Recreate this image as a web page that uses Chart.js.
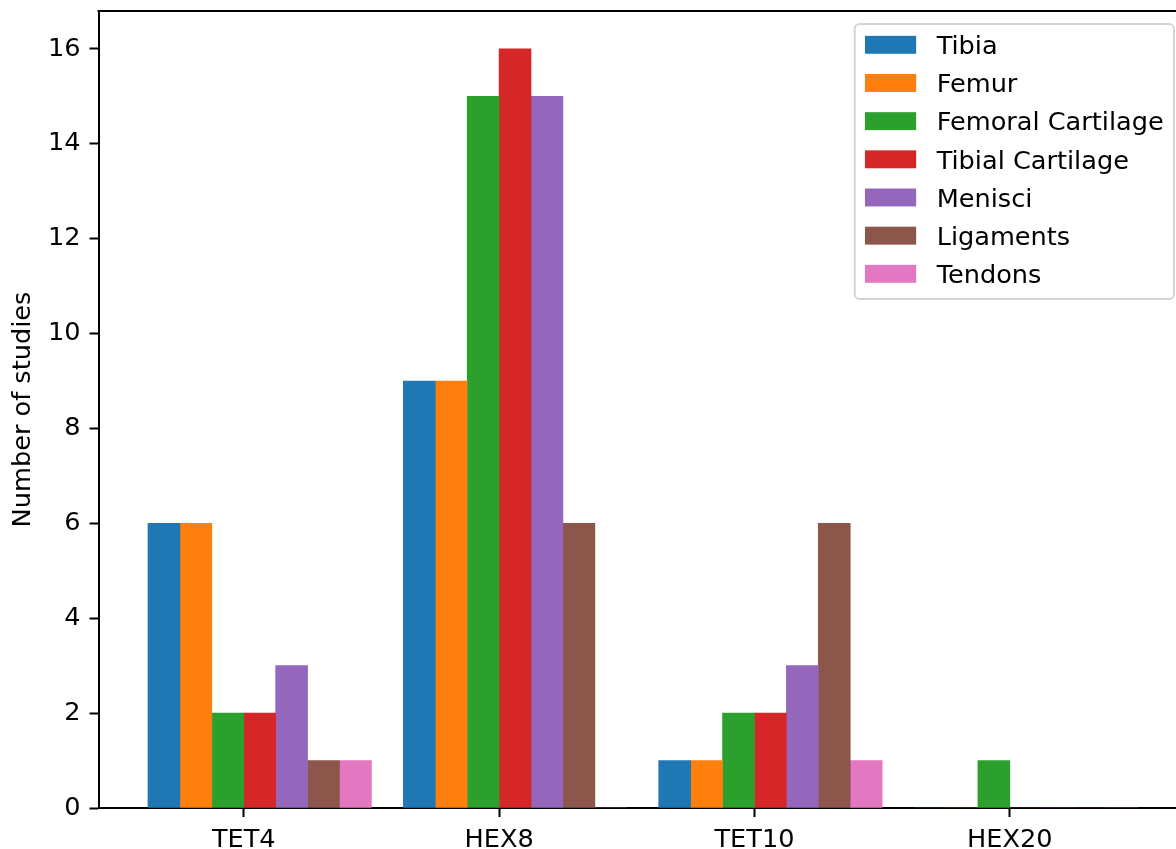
<!DOCTYPE html>
<html>
<head>
<meta charset="utf-8">
<script src="https://cdn.jsdelivr.net/npm/chart.js@4/dist/chart.umd.min.js"></script>
<style>
  html, body { margin: 0; padding: 0; background: #fff; overflow: hidden; }
  #wrap { width: 1200px; height: 849px; }
</style>
</head>
<body>
<div id="wrap"><canvas id="c" width="1200" height="849"></canvas></div>
<script>
// Element types on the x axis
const categories = ['TET4', 'HEX8', 'TET10', 'HEX20'];

// Number of studies per structure, one value per element type
const tibia            = [6, 9, 1, 0];
const femur            = [6, 9, 1, 0];
const femoralCartilage = [2, 15, 2, 1];
const tibialCartilage  = [2, 16, 2, 0];
const menisci          = [3, 15, 3, 0];
const ligaments        = [1, 6, 6, 0];
const tendons          = [1, 0, 1, 0];

const seriesNames  = ['Tibia', 'Femur', 'Femoral Cartilage', 'Tibial Cartilage', 'Menisci', 'Ligaments', 'Tendons'];
const seriesValues = [tibia, femur, femoralCartilage, tibialCartilage, menisci, ligaments, tendons];
const seriesColors = ['#1f77b4', '#ff7f0e', '#2ca02c', '#d62728', '#9467bd', '#8c564b', '#e377c2'];

const yTickStep = 2;

const FONT = '"DejaVu Sans", sans-serif';
const FS = 25.6;
const BAR_W = 0.125;

// Bars sit at category + (i - 2.5) * width, as a plain grouped layout
const datasets = seriesNames.map((name, i) => ({
  label: name,
  data: seriesValues[i].map((v, k) => ({ x: k + (i - 2.5) * BAR_W, y: v })),
  backgroundColor: seriesColors[i],
  borderWidth: 0,
  grouped: false,
  categoryPercentage: 1.0,
  barPercentage: 1.0
}));

const xMin = -3 * BAR_W - 0.05 * (categories.length - 1 + 7 * BAR_W);
const xMax = (categories.length - 1) + 4 * BAR_W + 0.05 * (categories.length - 1 + 7 * BAR_W);
const yMax = Math.max(...seriesValues.flat()) * 1.05;

// Top/right spines and an in-axes legend
const framePlugin = {
  id: 'frame',
  afterDraw(chart) {
    const { ctx, chartArea: a } = chart;
    ctx.save();
    ctx.strokeStyle = '#000';
    ctx.lineWidth = 2;
    ctx.beginPath();
    ctx.moveTo(a.left - 1, a.top);
    ctx.lineTo(a.right, a.top);
    ctx.lineTo(a.right, a.bottom);
    ctx.stroke();

    // legend
    ctx.font = FS + 'px ' + FONT;
    const pad = 0.4 * FS, handleW = 2 * FS, handleH = 0.7 * FS, gap = 0.8 * FS;
    const rowH = 38.17;
    const textW = Math.max(...seriesNames.map(n => ctx.measureText(n).width));
    const boxW = pad + handleW + gap + textW + pad;
    const boxH = 20.8 + rowH * (seriesNames.length - 1) + 25.2;
    const right = 1174, top = a.top + 13;
    const left = right - boxW;
    const r = 5;
    ctx.beginPath();
    ctx.moveTo(left + r, top);
    ctx.lineTo(right - r, top);
    ctx.arcTo(right, top, right, top + r, r);
    ctx.lineTo(right, top + boxH - r);
    ctx.arcTo(right, top + boxH, right - r, top + boxH, r);
    ctx.lineTo(left + r, top + boxH);
    ctx.arcTo(left, top + boxH, left, top + boxH - r, r);
    ctx.lineTo(left, top + r);
    ctx.arcTo(left, top, left + r, top, r);
    ctx.closePath();
    ctx.fillStyle = 'rgba(255,255,255,0.8)';
    ctx.fill();
    ctx.strokeStyle = '#d4d4d4';
    ctx.lineWidth = 2;
    ctx.stroke();

    ctx.textBaseline = 'alphabetic';
    ctx.textAlign = 'left';
    seriesNames.forEach((n, i) => {
      const cy = top + 20.8 + i * rowH;
      ctx.fillStyle = seriesColors[i];
      ctx.fillRect(left + pad, cy - handleH / 2, handleW, handleH);
      ctx.fillStyle = '#000';
      ctx.fillText(n, left + pad + handleW + gap, cy + 9.3);
    });
    ctx.restore();
  }
};

new Chart(document.getElementById('c'), {
  type: 'bar',
  data: { datasets },
  options: {
    responsive: false,
    animation: false,
    devicePixelRatio: 1,
    layout: { padding: { top: 11, right: 13, left: 0, bottom: 0 } },
    plugins: {
      legend: { display: false },
      tooltip: { enabled: false }
    },
    scales: {
      x: {
        type: 'linear',
        bounds: 'data',
        min: xMin,
        max: xMax,
        offset: false,
        afterBuildTicks: (s) => { s.ticks = categories.map((c, i) => ({ value: i })); },
        afterFit: (s) => { s.height = 41; s.paddingLeft = 0; s.paddingRight = 0; },
        ticks: {
          callback: (v) => categories[v] ?? '',
          autoSkip: false,
          maxRotation: 0,
          padding: 8,
          color: '#000',
          font: { family: FONT, size: FS }
        },
        grid: { display: true, drawOnChartArea: false, drawTicks: true, tickLength: 9, tickWidth: 2, tickColor: '#000', offset: false },
        border: { display: true, color: '#000', width: 2 }
      },
      y: {
        type: 'linear',
        bounds: 'data',
        min: 0,
        max: yMax,
        afterFit: (s) => { s.width = 98.5; s.paddingTop = 0; s.paddingBottom = 0; },
        ticks: {
          stepSize: yTickStep,
          includeBounds: false,
          padding: 9,
          color: '#000',
          font: { family: FONT, size: FS }
        },
        title: {
          display: true,
          text: 'Number of studies',
          color: '#000',
          font: { family: FONT, size: FS },
          padding: { top: 8, bottom: 0 }
        },
        grid: { display: true, drawOnChartArea: false, drawTicks: true, tickLength: 9, tickWidth: 2, tickColor: '#000' },
        border: { display: true, color: '#000', width: 2 }
      }
    }
  },
  plugins: [framePlugin]
});
</script>
</body>
</html>
